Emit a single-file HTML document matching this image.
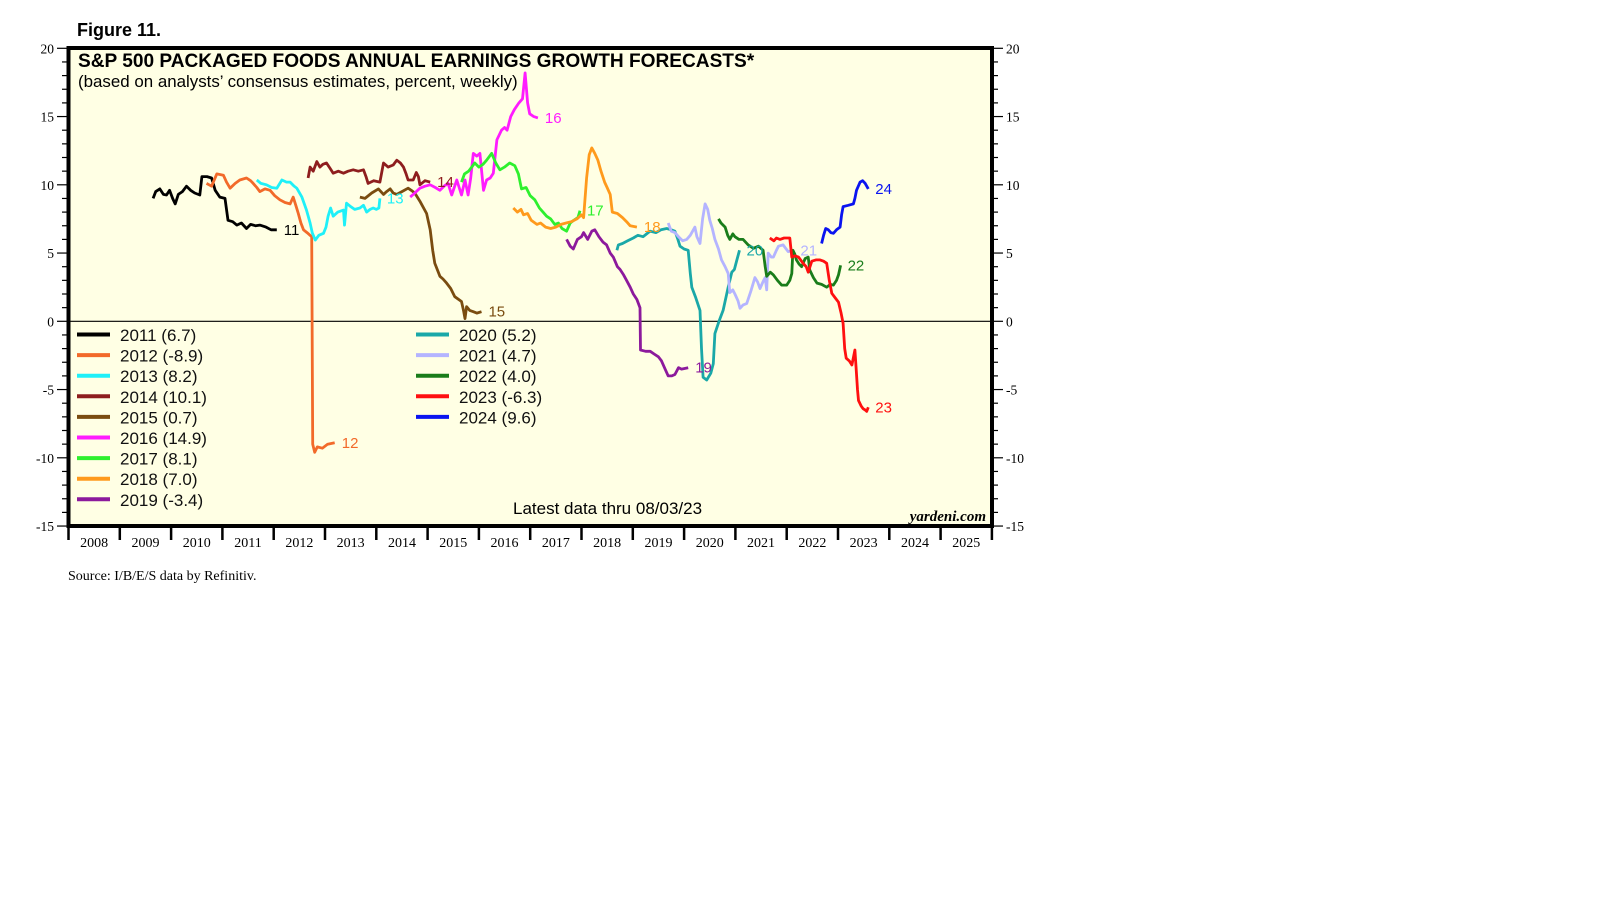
<!DOCTYPE html>
<html><head><meta charset="utf-8"><style>
body{margin:0;background:#fff;width:1610px;height:910px;overflow:hidden}
svg{display:block}
.sans{font-family:"Liberation Sans",Arial,sans-serif}
.serif{font-family:"Liberation Serif","Times New Roman",serif}
</style></head><body>
<svg id="chart" width="1610" height="910" viewBox="0 0 1610 910" xmlns="http://www.w3.org/2000/svg">
<rect x="68.5" y="48" width="923.5" height="478" fill="#ffffe4"/>
<g id="axes"></g>
<line id="zero" stroke="#000" stroke-width="1.2"/>
<defs><clipPath id="clip"><rect x="70" y="50" width="920" height="474"/></clipPath></defs>
<g id="series" clip-path="url(#clip)"></g>
<g id="labels" class="sans" font-size="15"></g>
<g id="legend" class="sans" font-size="17" fill="#111"></g>
<rect x="68.5" y="48" width="923.5" height="478" fill="none" stroke="#000" stroke-width="4"/>
<text x="77" y="36" class="sans" font-size="18" font-weight="bold">Figure 11.</text>
<text x="78" y="67" class="sans" font-size="19.1" font-weight="bold">S&amp;P 500 PACKAGED FOODS ANNUAL EARNINGS GROWTH FORECASTS*</text>
<text x="78" y="87" class="sans" font-size="16.9">(based on analysts’ consensus estimates, percent, weekly)</text>
<text x="513" y="514" class="sans" font-size="17">Latest data thru 08/03/23</text>
<text x="986" y="521" text-anchor="end" class="serif" font-size="15" font-weight="bold" font-style="italic">yardeni.com</text>
<text x="68" y="580" class="serif" font-size="14">Source: I/B/E/S data by Refinitiv.</text>
</svg>
<script>
const yearTicks = [2008,2009,2010,2011,2012,2013,2014,2015,2016,2017,2018,2019,2020,2021,2022,2023,2024,2025];
const yTickValues = [20,15,10,5,0,-5,-10,-15];
const seriesNames = ["2011","2012","2013","2014","2015","2016","2017","2018","2019","2020","2021","2022","2023","2024"];
const legendValues = ["6.7","-8.9","8.2","10.1","0.7","14.9","8.1","7.0","-3.4","5.2","4.7","4.0","-6.3","9.6"];
const s2011 = [[2009.65,9.0],[2009.7,9.5],[2009.78,9.7],[2009.85,9.3],[2009.91,9.25],[2009.97,9.6],[2010.03,9.0],[2010.08,8.6],[2010.14,9.3],[2010.22,9.5],[2010.3,9.9],[2010.38,9.6],[2010.46,9.4],[2010.56,9.25],[2010.6,10.6],[2010.7,10.6],[2010.79,10.5],[2010.86,9.6],[2010.95,9.1],[2011.05,9.0],[2011.11,7.4],[2011.2,7.3],[2011.28,7.05],[2011.37,7.2],[2011.47,6.8],[2011.55,7.1],[2011.65,7.0],[2011.73,7.05],[2011.85,6.9],[2011.95,6.7],[2012.06,6.7]];
const s2012 = [[2010.69,10.1],[2010.79,9.9],[2010.89,10.8],[2011.02,10.7],[2011.08,10.2],[2011.15,9.75],[2011.25,10.1],[2011.34,10.35],[2011.47,10.5],[2011.55,10.3],[2011.6,10.1],[2011.67,9.8],[2011.73,9.5],[2011.83,9.7],[2011.93,9.6],[2012.02,9.2],[2012.12,8.9],[2012.22,8.7],[2012.32,8.6],[2012.38,9.1],[2012.43,8.5],[2012.48,7.9],[2012.53,7.2],[2012.58,6.7],[2012.65,6.5],[2012.71,6.3],[2012.74,6.2],[2012.76,-9.0],[2012.8,-9.6],[2012.85,-9.2],[2012.95,-9.3],[2013.05,-9.0],[2013.19,-8.9]];
const s2013 = [[2011.67,10.35],[2011.75,10.1],[2011.86,10.0],[2011.96,9.8],[2012.06,9.75],[2012.16,10.35],[2012.25,10.2],[2012.32,10.2],[2012.4,9.9],[2012.45,9.75],[2012.55,9.1],[2012.64,8.15],[2012.71,7.2],[2012.75,6.5],[2012.81,5.95],[2012.88,6.3],[2012.97,6.45],[2013.02,6.9],[2013.06,7.7],[2013.11,8.3],[2013.16,7.7],[2013.25,8.0],[2013.36,8.15],[2013.38,7.05],[2013.42,8.65],[2013.5,8.4],[2013.58,8.2],[2013.68,8.3],[2013.75,8.5],[2013.81,8.0],[2013.88,8.2],[2013.94,8.3],[2014.0,8.2],[2014.05,8.3],[2014.07,9.0]];
const s2014 = [[2012.67,10.5],[2012.71,11.3],[2012.77,11.0],[2012.84,11.7],[2012.9,11.3],[2012.96,11.5],[2013.03,11.6],[2013.1,11.2],[2013.16,10.85],[2013.26,11.0],[2013.36,10.85],[2013.45,11.0],[2013.55,11.1],[2013.65,11.0],[2013.75,11.1],[2013.8,10.6],[2013.84,10.1],[2013.95,10.3],[2014.07,10.2],[2014.14,11.6],[2014.23,11.3],[2014.33,11.45],[2014.4,11.8],[2014.47,11.6],[2014.53,11.3],[2014.58,10.8],[2014.62,10.35],[2014.72,10.35],[2014.78,10.9],[2014.82,10.6],[2014.85,10.0],[2014.95,10.3],[2015.05,10.2]];
const s2015 = [[2013.68,9.1],[2013.78,9.0],[2013.91,9.4],[2014.04,9.7],[2014.14,9.3],[2014.2,9.5],[2014.27,9.7],[2014.33,9.4],[2014.4,9.3],[2014.5,9.5],[2014.62,9.75],[2014.68,9.6],[2014.75,9.4],[2014.85,8.8],[2014.98,7.9],[2015.05,6.7],[2015.1,5.2],[2015.14,4.25],[2015.24,3.3],[2015.3,3.1],[2015.37,2.8],[2015.45,2.4],[2015.53,1.8],[2015.66,1.45],[2015.7,0.8],[2015.73,0.2],[2015.76,1.07],[2015.82,0.8],[2015.89,0.7],[2015.96,0.6],[2016.05,0.7]];
const s2016 = [[2014.66,9.1],[2014.75,9.4],[2014.85,9.75],[2014.95,9.9],[2015.05,10.0],[2015.15,9.8],[2015.24,9.6],[2015.32,9.9],[2015.4,10.1],[2015.47,9.25],[2015.57,10.35],[2015.66,9.25],[2015.73,10.35],[2015.79,9.25],[2015.84,10.5],[2015.89,12.3],[2015.96,12.1],[2016.02,12.3],[2016.09,9.6],[2016.15,10.35],[2016.22,10.5],[2016.28,10.85],[2016.35,13.3],[2016.44,14.0],[2016.5,14.2],[2016.55,14.0],[2016.62,15.0],[2016.69,15.5],[2016.78,16.0],[2016.85,16.3],[2016.9,18.2],[2016.95,16.0],[2016.99,15.2],[2017.07,15.0],[2017.15,14.9]];
const s2017 = [[2015.66,10.2],[2015.72,10.8],[2015.8,11.0],[2015.92,11.6],[2016.0,11.3],[2016.08,11.5],[2016.15,11.8],[2016.25,12.3],[2016.33,11.6],[2016.41,11.1],[2016.5,11.3],[2016.6,11.6],[2016.7,11.4],[2016.77,10.8],[2016.83,9.7],[2016.92,9.8],[2017.0,9.2],[2017.09,8.9],[2017.18,8.3],[2017.25,8.0],[2017.32,7.7],[2017.4,7.5],[2017.48,7.1],[2017.55,7.2],[2017.62,6.8],[2017.71,6.6],[2017.78,7.2],[2017.85,7.4],[2017.93,7.6],[2017.97,8.1]];
const s2018 = [[2016.67,8.3],[2016.75,8.0],[2016.82,8.2],[2016.87,7.8],[2016.95,7.9],[2017.02,7.4],[2017.13,7.1],[2017.2,7.2],[2017.3,6.9],[2017.4,6.8],[2017.5,6.9],[2017.6,7.1],[2017.7,7.2],[2017.8,7.3],[2017.91,7.5],[2018.0,7.8],[2018.04,7.6],[2018.1,10.5],[2018.15,12.2],[2018.2,12.7],[2018.26,12.3],[2018.32,11.8],[2018.38,11.0],[2018.45,10.2],[2018.5,9.8],[2018.56,9.3],[2018.6,8.0],[2018.7,7.9],[2018.8,7.6],[2018.88,7.3],[2018.95,7.0],[2019.08,6.9]];
const s2019 = [[2017.71,6.0],[2017.78,5.5],[2017.84,5.3],[2017.92,6.0],[2018.0,6.2],[2018.04,6.5],[2018.12,6.0],[2018.2,6.6],[2018.26,6.7],[2018.34,6.2],[2018.42,5.8],[2018.49,5.6],[2018.56,5.0],[2018.62,4.7],[2018.7,4.0],[2018.75,3.8],[2018.82,3.4],[2018.88,3.0],[2018.95,2.5],[2019.01,2.0],[2019.08,1.6],[2019.14,1.0],[2019.15,-2.1],[2019.25,-2.2],[2019.34,-2.2],[2019.42,-2.4],[2019.5,-2.6],[2019.56,-2.9],[2019.63,-3.5],[2019.69,-4.0],[2019.76,-4.0],[2019.82,-3.9],[2019.89,-3.4],[2019.95,-3.5],[2020.08,-3.4]];
const s2020 = [[2018.69,5.2],[2018.72,5.6],[2018.8,5.7],[2018.9,5.9],[2019.01,6.1],[2019.1,6.3],[2019.2,6.2],[2019.3,6.5],[2019.34,6.6],[2019.45,6.5],[2019.55,6.7],[2019.66,6.8],[2019.75,6.7],[2019.82,6.6],[2019.88,6.0],[2019.92,5.5],[2020.0,5.3],[2020.08,5.2],[2020.12,3.5],[2020.15,2.5],[2020.22,1.8],[2020.31,0.8],[2020.34,-2.0],[2020.37,-4.1],[2020.44,-4.3],[2020.52,-3.8],[2020.57,-3.1],[2020.6,-0.9],[2020.68,0.0],[2020.76,0.8],[2020.86,2.5],[2020.93,3.6],[2020.98,3.8],[2021.03,4.5],[2021.08,5.2]];
const s2021 = [[2019.69,7.2],[2019.75,6.6],[2019.82,6.5],[2019.89,6.2],[2019.97,5.9],[2020.05,6.0],[2020.12,6.3],[2020.21,6.9],[2020.25,6.2],[2020.31,5.7],[2020.36,7.5],[2020.41,8.6],[2020.46,8.2],[2020.5,7.4],[2020.55,6.8],[2020.6,6.0],[2020.67,5.3],[2020.73,4.5],[2020.8,4.0],[2020.86,3.5],[2020.89,2.1],[2020.95,2.3],[2020.99,2.0],[2021.05,1.5],[2021.09,0.95],[2021.15,1.2],[2021.22,1.3],[2021.3,2.2],[2021.38,3.2],[2021.43,2.9],[2021.48,2.4],[2021.55,3.0],[2021.58,3.2],[2021.61,2.3],[2021.64,5.0],[2021.7,4.7],[2021.74,4.7],[2021.8,5.2],[2021.84,5.5],[2021.93,5.6],[2022.03,5.1],[2022.13,5.2]];
const s2022 = [[2020.67,7.5],[2020.72,7.2],[2020.8,6.9],[2020.85,6.3],[2020.89,6.0],[2020.95,6.4],[2020.99,6.2],[2021.07,6.0],[2021.15,6.0],[2021.25,5.6],[2021.35,5.35],[2021.45,5.5],[2021.54,5.2],[2021.58,4.0],[2021.61,3.3],[2021.68,3.6],[2021.74,3.4],[2021.82,3.0],[2021.9,2.65],[2022.0,2.65],[2022.06,3.0],[2022.1,3.5],[2022.12,5.2],[2022.16,4.9],[2022.19,4.5],[2022.24,4.2],[2022.29,4.0],[2022.36,4.6],[2022.42,4.7],[2022.45,3.75],[2022.52,3.2],[2022.59,2.8],[2022.68,2.7],[2022.78,2.5],[2022.85,2.7],[2022.91,2.65],[2022.97,3.0],[2023.01,3.4],[2023.05,4.1]];
const s2023 = [[2021.67,6.1],[2021.75,5.9],[2021.8,6.1],[2021.87,6.0],[2021.95,6.1],[2022.06,6.1],[2022.1,4.7],[2022.16,4.8],[2022.23,4.7],[2022.32,4.25],[2022.38,4.0],[2022.42,3.6],[2022.49,4.4],[2022.57,4.5],[2022.65,4.5],[2022.72,4.4],[2022.78,4.25],[2022.83,3.0],[2022.88,2.05],[2022.95,1.7],[2023.01,1.4],[2023.06,0.6],[2023.1,-0.15],[2023.13,-2.0],[2023.16,-2.7],[2023.22,-2.9],[2023.27,-3.2],[2023.33,-2.1],[2023.35,-3.3],[2023.38,-5.0],[2023.4,-5.8],[2023.45,-6.2],[2023.49,-6.4],[2023.53,-6.5],[2023.56,-6.6],[2023.59,-6.3]];
const s2024 = [[2022.68,5.7],[2022.72,6.3],[2022.76,6.8],[2022.81,6.7],[2022.86,6.5],[2022.91,6.45],[2022.97,6.7],[2023.04,6.9],[2023.07,7.8],[2023.1,8.4],[2023.2,8.5],[2023.3,8.6],[2023.33,9.0],[2023.36,9.6],[2023.43,10.2],[2023.48,10.3],[2023.53,10.1],[2023.59,9.7]];

const allSeries = [s2011,s2012,s2013,s2014,s2015,s2016,s2017,s2018,s2019,s2020,s2021,s2022,s2023,s2024];
const colors = ["#000000","#f26a2a","#1ff0f8","#8e1e1e","#7a4c10","#ff1cff","#2ef02e","#ff9a1c","#8c1a9c","#1aa8a8","#b4b4ff","#1a7d1a","#ff1010","#0a14f0"];
const endLabels = ["11","12","13","14","15","16","17","18","19","20","21","22","23","24"];

const X0 = 68.5, XS = 51.3, Y0 = 321.3, YS = 13.65, XR = 992;
function x(t){return X0 + (t-2008)*XS;}
function y(v){return Y0 - v*YS;}
const NS = "http://www.w3.org/2000/svg";
function mk(tag, attrs, parent){const e=document.createElementNS(NS,tag);for(const k in attrs)e.setAttribute(k,attrs[k]);parent.appendChild(e);return e;}

const axes = document.getElementById('axes');
for(let v=-15; v<=20; v++){
  const major = v%5===0;
  const tl = mk('line',{x1:major?57:62,x2:68.5,y1:y(v),y2:y(v),stroke:'#000','stroke-width':1.2},axes);
  
  
  const tr = mk('line',{x1:XR,x2:major?XR+11:XR+6,y1:y(v),y2:y(v),stroke:'#000','stroke-width':1.2},axes);
  
  
}
yTickValues.forEach(v=>{
  const l = mk('text',{x:54,y:y(v)+5,'text-anchor':'end','font-size':13.5,class:'serif'},axes);
  l.textContent = v;
  
  
  const r = mk('text',{x:XR+14,y:y(v)+5,'font-size':13.5,class:'serif'},axes);
  r.textContent = v;
  
  
});
for(let i=0;i<=yearTicks.length;i++){
  const t = 2008+i;
  const tk = mk('line',{x1:x(t),x2:x(t),y1:526,y2:540,stroke:'#000','stroke-width':2.5},axes);
  
  
}
yearTicks.forEach(yr=>{
  const l = mk('text',{x:x(yr+0.5),y:547,'text-anchor':'middle','font-size':14,class:'serif'},axes);
  l.textContent = yr;
  
  
});
const z = document.getElementById('zero');
z.setAttribute('x1',68.5);z.setAttribute('x2',XR);z.setAttribute('y1',y(0));z.setAttribute('y2',y(0));

const sg = document.getElementById('series');
const lg = document.getElementById('labels');
allSeries.forEach((s,i)=>{
  const d = s.map((p,j)=>(j?'L':'M')+x(p[0]).toFixed(1)+','+y(p[1]).toFixed(1)).join(' ');
  const p = mk('path',{d:d,fill:'none',stroke:colors[i],'stroke-width':2.8,'stroke-linejoin':'round'},sg);
  
  
  const last = s[s.length-1];
  const t = mk('text',{x:x(last[0])+7,y:y(last[1])+5,fill:colors[i]},lg);
  t.textContent = endLabels[i];
  
  
});

const leg = document.getElementById('legend');
seriesNames.forEach((n,i)=>{
  const col = i<9?0:1, row = i<9?i:i-9;
  const lx = col? 416:77, ty = 335+row*20.6;
  const ln = mk('line',{x1:lx,x2:lx+33,y1:ty-0.5,y2:ty-0.5,stroke:colors[i],'stroke-width':4},leg);
  
  
  const tx = mk('text',{x:lx+43,y:ty+6},leg);
  tx.textContent = n+' ('+legendValues[i]+')';
  
  
});
</script>
</body></html>
